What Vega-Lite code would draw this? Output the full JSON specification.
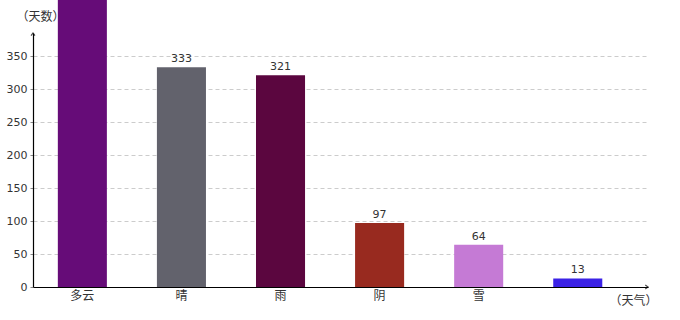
{
  "$schema": "https://vega.github.io/schema/vega-lite/v6.json",
  "width": 615,
  "height": 254,
  "autosize": "none",
  "padding": {"left": 33, "top": 33, "right": 32, "bottom": 33},
  "config": {
    "view": {"stroke": null},
    "font": "DejaVu Sans"
  },
  "datasets": {
    "weather": [
      {"weather": "多云", "days": 500, "color": "#660c78"},
      {"weather": "晴", "days": 333, "color": "#62626c"},
      {"weather": "雨", "days": 321, "color": "#5b063f"},
      {"weather": "阴", "days": 97, "color": "#982a1f"},
      {"weather": "雪", "days": 64, "color": "#c57ad5"},
      {"weather": "", "days": 13, "color": "#3b22e6"}
    ],
    "arrows": [
      {"ax": 0, "ay": 385, "dir": "up"},
      {"ax": 1, "ay": 0, "dir": "right"}
    ]
  },
  "encoding": {
    "y": {
      "type": "quantitative",
      "scale": {"domain": [0, 385], "nice": false},
      "axis": {
        "values": [0, 50, 100, 150, 200, 250, 300, 350],
        "title": "（天数）", "titleAngle": 0, "titleX": 7, "titleY": -17,
        "titleAlign": "center", "titleBaseline": "middle",
        "titleFontSize": 12, "titleFontWeight": "normal", "titleColor": "#333",
        "titleFont": "Noto Sans CJK SC",
        "labelFontSize": 11, "labelColor": "#333", "labelPadding": 3,
        "labelOverlap": false,
        "tickSize": 3, "tickColor": "#888",
        "grid": true, "gridColor": "#cccccc", "gridDash": [4, 3],
        "domainColor": "#000", "domainWidth": 1.2
      }
    }
  },
  "layer": [
    {
      "data": {"name": "weather"},
      "encoding": {
        "x": {
          "field": "weather", "type": "nominal", "sort": null,
          "scale": {"paddingInner": 0.505, "paddingOuter": 0.356, "align": 0.352},
          "axis": {
            "title": "（天气）", "titleAngle": 0, "titleX": 600, "titleY": 13,
            "titleAlign": "center", "titleBaseline": "middle",
            "titleFontSize": 12, "titleFontWeight": "normal", "titleColor": "#333",
            "titleFont": "Noto Sans CJK SC",
            "labelAngle": 0, "labelFont": "Noto Sans CJK SC", "labelFontSize": 12,
            "labelColor": "#333", "labelPadding": 3,
            "ticks": false, "domainColor": "#000", "domainWidth": 1.2
          }
        }
      },
      "layer": [
        {
          "mark": {"type": "bar"},
          "encoding": {
            "y": {"field": "days", "type": "quantitative"},
            "color": {"field": "color", "type": "nominal", "scale": null, "legend": null}
          }
        },
        {
          "transform": [{"filter": "datum.days <= 385"}],
          "mark": {"type": "text", "baseline": "bottom", "dy": -3, "fontSize": 11, "color": "#333"},
          "encoding": {
            "y": {"field": "days", "type": "quantitative"},
            "text": {"field": "days", "type": "quantitative"}
          }
        }
      ]
    },
    {
      "data": {"name": "arrows"},
      "encoding": {
        "x": {"field": "ax", "type": "quantitative", "scale": {"domain": [0, 1]}, "axis": null},
        "y": {"field": "ay", "type": "quantitative"}
      },
      "layer": [
        {
          "transform": [{"filter": "datum.dir == 'up'"}],
          "mark": {"type": "point", "shape": "M-0.5,0.7L0,0L0.5,0.7", "filled": false, "stroke": "#000", "strokeWidth": 1.2, "size": 60}
        },
        {
          "transform": [{"filter": "datum.dir == 'right'"}],
          "mark": {"type": "point", "shape": "M-0.7,-0.5L0,0L-0.7,0.5", "filled": false, "stroke": "#000", "strokeWidth": 1.2, "size": 60}
        }
      ]
    }
  ],
  "resolve": {"scale": {"x": "independent"}}
}
